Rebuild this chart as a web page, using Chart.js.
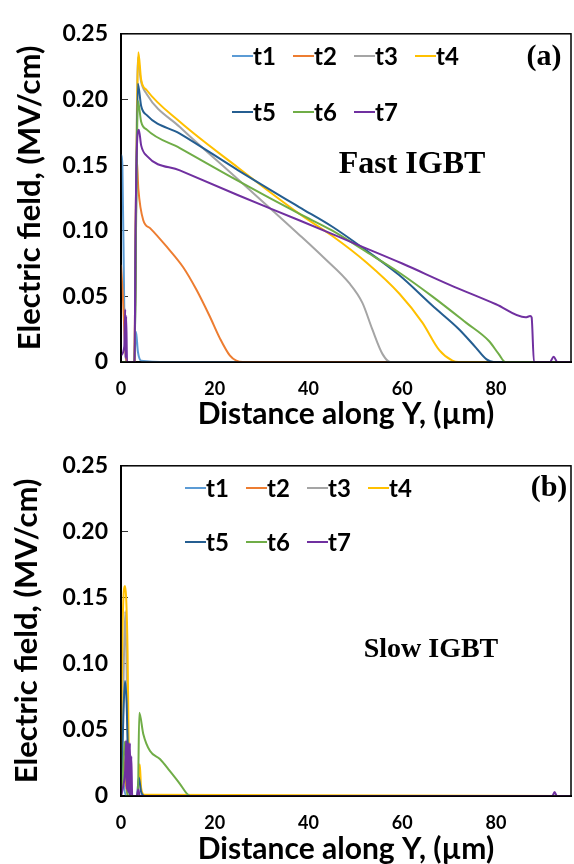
<!DOCTYPE html>
<html>
<head>
<meta charset="utf-8">
<script src="https://cdn.jsdelivr.net/npm/chart.js@4.4.1/dist/chart.umd.min.js"></script>
<style>
  body { margin: 0; background: #fff; }
  .panel { width: 574px; height: 432px; }
</style>
</head>
<body>
<div class="panel"><canvas id="fastChart" width="574" height="432"></canvas></div>
<div class="panel"><canvas id="slowChart" width="574" height="432"></canvas></div>
<script>
// series names / colours
const seriesNames = ['t1', 't2', 't3', 't4', 't5', 't6', 't7'];
const seriesColors = ['#5b9bd5', '#ed7d31', '#a5a5a5', '#ffc000', '#255e91', '#70ad47', '#7030a0'];
const xTicks = [0, 20, 40, 60, 80];
const yTicks = [0, 0.05, 0.10, 0.15, 0.20, 0.25];

// (a) Fast IGBT - distance (um) / field (MV/cm)
const fastT1X = [0, 0.3, 0.7, 1.0, 2.8, 3.2, 3.6, 4.3, 10, 96];
const fastT1Y = [0.158, 0.15, 0.04, 0, 0, 0.023, 0.008, 0.001, 0, 0];
const fastT2X = [0, 0.4, 0.9, 1.2, 2.9, 3.1, 3.35, 3.7, 4.75, 6.2, 9.7, 13.3, 16.1, 18.9, 21.1, 23.2, 24.6, 26, 96];
const fastT2Y = [0.074, 0.05, 0.01, 0, 0, 0.10, 0.155, 0.132, 0.108, 0.102, 0.088, 0.072, 0.055, 0.035, 0.018, 0.005, 0.001, 0, 0];
const fastT3X = [0, 2.9, 3.2, 3.6, 4.2, 5.5, 12.55, 25, 38, 43.4, 48.7, 51.5, 53.6, 55.8, 57.5, 96];
const fastT3Y = [0, 0, 0.12, 0.232, 0.215, 0.204, 0.179, 0.139, 0.097, 0.079, 0.060, 0.045, 0.025, 0.006, 0, 0];
const fastT4X = [0, 2.9, 3.2, 3.7, 4.3, 5.5, 12.55, 25, 38, 45.1, 52.3, 59.4, 64.3, 67.9, 70.7, 72, 96];
const fastT4Y = [0, 0, 0.12, 0.236, 0.215, 0.207, 0.183, 0.148, 0.113, 0.096, 0.076, 0.052, 0.030, 0.009, 0.001, 0, 0];
const fastT5X = [0, 2.9, 3.2, 3.6, 4.3, 5.5, 12.55, 25, 38, 45.1, 52.3, 59.4, 66.4, 72.1, 75.7, 78, 79.5, 96];
const fastT5Y = [0, 0, 0.11, 0.212, 0.195, 0.188, 0.174, 0.146, 0.118, 0.103, 0.085, 0.066, 0.043, 0.025, 0.011, 0.002, 0, 0];
const fastT6X = [0, 2.9, 3.2, 3.6, 4.3, 5.5, 12.55, 25, 38, 45.1, 52.3, 59.4, 66.4, 73.6, 78.5, 80.6, 82, 96];
const fastT6Y = [0, 0, 0.10, 0.199, 0.183, 0.177, 0.163, 0.138, 0.113, 0.100, 0.084, 0.068, 0.050, 0.030, 0.016, 0.006, 0, 0];
const fastT7X = [0, 0.7, 0.9, 1.0, 1.1, 1.3, 2.9, 3.1, 3.5, 3.8, 4.3, 5.5, 12.55, 25, 38, 50, 60, 70, 80, 86.3, 87.3, 87.6, 88.1, 91.5, 92.3, 93.1, 96];
const fastT7Y = [0.005, 0.012, 0.04, 0.003, 0.035, 0, 0, 0.10, 0.172, 0.177, 0.165, 0.157, 0.146, 0.127, 0.108, 0.090, 0.075, 0.059, 0.044, 0.034, 0.035, 0.034, 0, 0, 0.004, 0, 0];

// (b) Slow IGBT
const slowT1X = [0, 0.3, 0.7, 1.2, 96];
const slowT1Y = [0, 0.02, 0.005, 0, 0];
const slowT2X = [0, 0.5, 1.0, 1.5, 96];
const slowT2Y = [0.01, 0.03, 0.01, 0, 0];
const slowT3X = [0, 0.4, 0.9, 1.4, 1.8, 96];
const slowT3Y = [0, 0.06, 0.14, 0.05, 0, 0];
const slowT4X = [0, 0.1, 0.3, 0.6, 0.85, 1.1, 1.4, 1.6, 1.9, 3.5, 3.8, 4.0, 4.3, 5, 96];
const slowT4Y = [0, 0.06, 0.12, 0.155, 0.159, 0.15, 0.11, 0.05, 0, 0, 0.01, 0.024, 0.006, 0.001, 0];
const slowT5X = [0, 0.2, 0.5, 0.85, 1.2, 1.5, 1.8, 3.4, 3.8, 4.3, 5, 96];
const slowT5Y = [0, 0.02, 0.06, 0.087, 0.07, 0.03, 0, 0, 0.014, 0.003, 0, 0];
const slowT6X = [0, 0.4, 0.8, 1.0, 1.2, 1.4, 3.6, 3.9, 4.75, 6.2, 8.3, 10.4, 12.6, 14, 14.8, 96];
const slowT6Y = [0, 0.015, 0.041, 0.035, 0.01, 0, 0, 0.063, 0.047, 0.034, 0.028, 0.019, 0.009, 0.002, 0, 0];
const slowT7X = [0, 0.5, 0.9, 1.1, 1.25, 1.35, 1.5, 1.6, 1.75, 1.9, 2.05, 2.2, 2.4, 3.4, 3.7, 4.0, 92, 92.5, 93, 96];
const slowT7Y = [0, 0.008, 0.02, 0.042, 0.005, 0.04, 0.003, 0.04, 0.002, 0.04, 0, 0.03, 0, 0, 0.005, 0, 0, 0.003, 0, 0];

const pair = (xs, ys) => xs.map((x, i) => ({ x: x, y: ys[i] }));

// frame, legend and panel captions
const panelDecor = {
    id: 'panelDecor',
    afterDatasetsDraw(chart, args, o) {
        const { ctx, chartArea: a } = chart;
        ctx.save();
        ctx.strokeStyle = '#000';
        ctx.lineWidth = 1.5;
        ctx.strokeRect(a.left, a.top, a.right - a.left, a.bottom - a.top);

        ctx.font = 'bold 24px Lato';
        ctx.textBaseline = 'middle';
        ctx.textAlign = 'left';
        chart.data.datasets.forEach((ds, i) => {
            const row = i < 4 ? 0 : 1;
            const col = i < 4 ? i : i - 4;
            const x = o.legendX + col * o.legendStep;
            const y = o.legendRows[row];
            ctx.strokeStyle = ds.borderColor;
            ctx.lineWidth = 2;
            ctx.beginPath();
            ctx.moveTo(x, y);
            ctx.lineTo(x + 21, y);
            ctx.stroke();
            ctx.fillStyle = '#000';
            ctx.fillText(ds.label, x + 21, y + 1);
        });

        ctx.textAlign = 'center';
        ctx.font = 'bold 30px "Liberation Serif"';
        ctx.fillText(o.tag, o.tagPos[0], o.tagPos[1]);
        ctx.font = 'bold ' + o.captionSize + 'px "Liberation Serif"';
        ctx.fillText(o.caption, o.captionPos[0], o.captionPos[1]);
        ctx.restore();
    }
};

function makeChart(id, xsList, ysList, cfg) {
    return new Chart(document.getElementById(id), {
        type: 'line',
        data: {
            datasets: seriesNames.map((name, i) => ({
                label: name,
                data: pair(xsList[i], ysList[i]),
                borderColor: seriesColors[i],
                borderWidth: 2,
                pointRadius: 0,
                cubicInterpolationMode: 'monotone',
                order: 7 - i
            }))
        },
        options: {
            responsive: false,
            animation: false,
            layout: { padding: { top: cfg.top, right: 3, left: 0, bottom: 0 } },
            plugins: {
                legend: { display: false },
                tooltip: { enabled: false },
                panelDecor: cfg.decor
            },
            scales: {
                x: {
                    type: 'linear',
                    min: 0,
                    max: 96,
                    afterBuildTicks: s => { s.ticks = xTicks.map(v => ({ value: v })); },
                    afterFit: s => { s.height = cfg.xHeight; },
                    grid: { display: false, drawTicks: false },
                    border: { display: true, color: '#000', width: 2 },
                    ticks: {
                        padding: 16,
                        color: '#000',
                        font: { family: 'Lato', weight: 'bold', size: 18 },
                        callback: v => String(v)
                    },
                    title: {
                        display: true,
                        text: 'Distance along Y, (µm)',
                        color: '#000',
                        font: { family: 'Lato', weight: 'bold', size: 30, lineHeight: 1 },
                        padding: { top: 0, bottom: cfg.xTitlePad }
                    }
                },
                y: {
                    min: 0,
                    max: 0.25,
                    afterBuildTicks: s => { s.ticks = yTicks.map(v => ({ value: v })); },
                    afterFit: s => { s.width = 121; },
                    grid: { drawOnChartArea: false, drawTicks: true, tickLength: -7, color: '#333', lineWidth: 1 },
                    border: { display: true, color: '#000', width: 2 },
                    ticks: {
                        padding: 20,
                        color: '#000',
                        font: { family: 'Lato', weight: 'bold', size: 23 },
                        callback: v => v === 0 ? '0' : v.toFixed(2)
                    },
                    title: {
                        display: true,
                        text: 'Electric field, (MV/cm)',
                        color: '#000',
                        font: { family: 'Lato', weight: 'bold', size: 31, lineHeight: 1 },
                        padding: { top: cfg.yTitlePad, bottom: 0 }
                    }
                }
            }
        },
        plugins: [panelDecor]
    });
}

makeChart('fastChart',
    [fastT1X, fastT2X, fastT3X, fastT4X, fastT5X, fastT6X, fastT7X],
    [fastT1Y, fastT2Y, fastT3Y, fastT4Y, fastT5Y, fastT6Y, fastT7Y],
    {
        top: 17, xHeight: 70, xTitlePad: 3, yTitlePad: 14,
        decor: {
            legendX: 232, legendStep: 61, legendRows: [56, 112],
            tag: '(a)', tagPos: [544, 57],
            caption: 'Fast IGBT', captionSize: 32, captionPos: [412, 165]
        }
    });

makeChart('slowChart',
    [slowT1X, slowT2X, slowT3X, slowT4X, slowT5X, slowT6X, slowT7X],
    [slowT1Y, slowT2Y, slowT3Y, slowT4Y, slowT5Y, slowT6Y, slowT7Y],
    {
        top: 20, xHeight: 68, xTitlePad: 0, yTitlePad: 11,
        decor: {
            legendX: 185, legendStep: 61, legendRows: [56, 110],
            tag: '(b)', tagPos: [549, 56],
            caption: 'Slow IGBT', captionSize: 28, captionPos: [431, 218]
        }
    });
</script>
</body>
</html>
